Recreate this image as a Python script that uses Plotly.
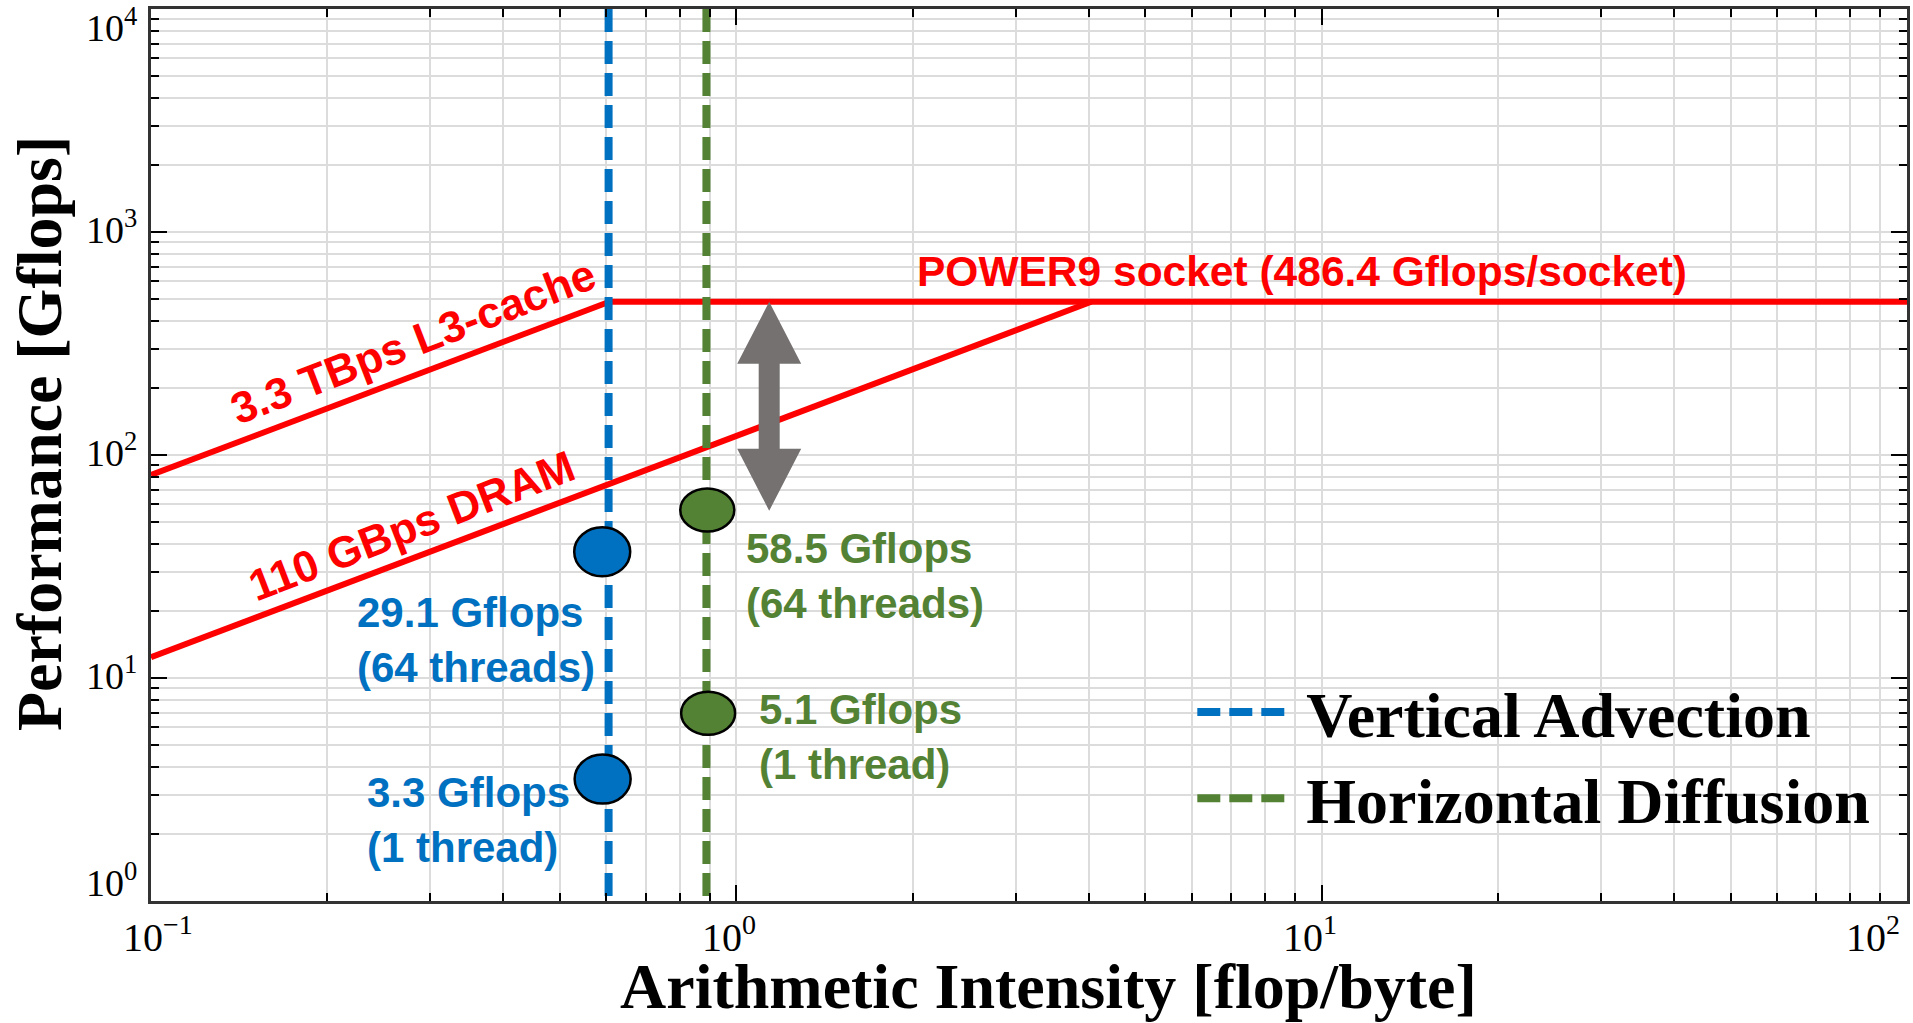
import numpy as np
import plotly.graph_objects as go

# ---------------- data ----------------
peak_gflops = 486.4
l3_x = [0.1, 0.607]
l3_y = [81.3, 486.4]
dram_x = [0.1, 4.04]
dram_y = [12.4, 486.4]
peak_x = [0.607, 100]
peak_y = [486.4, 486.4]

kernels = ["Vertical Advection", "Horizontal Diffusion"]
kernel_ai = [0.605, 0.889]
kernel_colors = ["#0070C0", "#548235"]

point_ai = [[0.590, 0.591], [0.892, 0.895]]
point_perf = [[36.8, 3.52], [56.7, 6.95]]
point_labels = [["29.1 Gflops<br>(64 threads)", "3.3 Gflops<br>(1 thread)"],
                ["58.5 Gflops<br>(64 threads)", "5.1 Gflops<br>(1 thread)"]]

arrow_ai = 1.138

x_tick_vals = [0.1, 1, 10, 100]
x_tick_text = ["10<sup>−1</sup>", "10<sup>0</sup>", "10<sup>1</sup>", "10<sup>2</sup>"]
y_tick_vals = [1, 10, 100, 1000, 10000]
y_tick_text = ["10<sup>0</sup>", "10<sup>1</sup>", "10<sup>2</sup>", "10<sup>3</sup>", "10<sup>4</sup>"]

roof_labels = ["3.3 TBps L3-cache", "110 GBps DRAM", "POWER9 socket (486.4 Gflops/socket)"]
x_title = "Arithmetic Intensity [flop/byte]"
y_title = "Performance [Gflops]"

# ---------------- style ----------------
RED = "#FF0000"
GRID = "#dcdcdc"
SANS = "Liberation Sans"
SERIF = "Liberation Serif"

label_pos = [[(-0.652, 1.170), (-0.635, 0.363)], [(0.0137, 1.457), (0.0358, 0.735)]]
roof_pos = [(-0.553, 2.507), (-0.555, 1.686), (0.966, 2.821)]
roof_size = [44, 44, 42.5]
ellipse_size = [(56, 49), (54, 43)]
x_label_shift = [7, -7, -12, -34]
y_label_shift = [21, 5, 5, 5, -16]

fig = go.Figure()

# roofline
for xs, ys in [(l3_x, l3_y), (dram_x, dram_y), (peak_x, peak_y)]:
    fig.add_trace(go.Scatter(x=xs, y=ys, mode="lines", line=dict(color=RED, width=6),
                             showlegend=False, hoverinfo="skip"))

# dashed kernel lines
for i, name in enumerate(kernels):
    fig.add_trace(go.Scatter(x=[kernel_ai[i], kernel_ai[i]], y=[1e4, 1], mode="lines",
                             name="&nbsp;" + name, legendgroup=name,
                             line=dict(color=kernel_colors[i], width=8, dash="23px,9px")))


def ellipse_path(rx, ry):
    k = 0.5523
    return (f"M{rx},0 C{rx},{k*ry} {k*rx},{ry} 0,{ry} "
            f"C{-k*rx},{ry} {-rx},{k*ry} {-rx},0 "
            f"C{-rx},{-k*ry} {-k*rx},{-ry} 0,{-ry} "
            f"C{k*rx},{-ry} {rx},{-k*ry} {rx},0 Z")


shapes = []
for i in range(len(kernels)):
    w, h = ellipse_size[i]
    for xv, yv in zip(point_ai[i], point_perf[i]):
        shapes.append(dict(type="path", xref="x", yref="y",
                           xsizemode="pixel", ysizemode="pixel",
                           xanchor=xv, yanchor=yv, path=ellipse_path(w / 2, h / 2),
                           fillcolor=kernel_colors[i], line=dict(color="black", width=2.5)))

# double arrow (pixel geometry anchored at the peak)
hw, hl, sw, L = 32, 62, 10.5, 209
path = (f"M0,0 L{hw},{-hl} L{sw},{-hl} L{sw},{-(L - hl)} L{hw},{-(L - hl)} L0,{-L} "
        f"L{-hw},{-(L - hl)} L{-sw},{-(L - hl)} L{-sw},{-hl} L{-hw},{-hl} Z")
shapes.append(dict(type="path", xref="x", yref="y", xsizemode="pixel", ysizemode="pixel",
                   xanchor=arrow_ai, yanchor=peak_gflops, path=path,
                   fillcolor="#767171", line=dict(width=0)))

annotations = []
for i in range(len(kernels)):
    for j, txt in enumerate(point_labels[i]):
        lx, ly = label_pos[i][j]
        annotations.append(dict(x=lx, y=ly, xref="x", yref="y", text=f"<b>{txt}</b>",
                                showarrow=False, xanchor="left", yanchor="middle", align="left",
                                font=dict(family=SANS, size=42, color=kernel_colors[i])))

for k, txt in enumerate(roof_labels):
    rx, ry = roof_pos[k]
    annotations.append(dict(x=rx, y=ry, xref="x", yref="y", text=f"<b>{txt}</b>",
                            showarrow=False, xanchor="center", yanchor="middle",
                            textangle=-21 if k < 2 else 0,
                            font=dict(family=SANS, size=roof_size[k], color=RED)))

for v, t, s in zip(x_tick_vals, x_tick_text, x_label_shift):
    annotations.append(dict(x=np.log10(v), y=0, xref="x", yref="paper", text=t,
                            showarrow=False, xanchor="center", yanchor="top",
                            xshift=s, yshift=-6,
                            font=dict(family=SERIF, size=40, color="black")))
for v, t, s in zip(y_tick_vals, y_tick_text, y_label_shift):
    annotations.append(dict(x=0, y=np.log10(v), xref="paper", yref="y", text=t,
                            showarrow=False, xanchor="right", yanchor="middle",
                            xshift=-12, yshift=s,
                            font=dict(family=SERIF, size=38, color="black")))

# axis titles
annotations.append(dict(x=0.511, y=-0.0953, xref="paper", yref="paper",
                        text=f"<b>{x_title}</b>", showarrow=False,
                        xanchor="center", yanchor="middle",
                        font=dict(family=SERIF, size=64, color="black")))
annotations.append(dict(x=0, y=0.5235, xref="paper", yref="paper", xshift=-112,
                        text=f"<b>{y_title}</b>", showarrow=False, textangle=-90,
                        xanchor="center", yanchor="middle",
                        font=dict(family=SERIF, size=64, color="black")))

axis_common = dict(type="log", tickmode="linear", tick0=0, dtick=1, showticklabels=False,
                   ticks="inside", ticklen=16, tickwidth=2, tickcolor="black",
                   showline=True, linecolor="#333333", linewidth=3, mirror="ticks",
                   showgrid=True, gridcolor=GRID, gridwidth=1.5, zeroline=False,
                   minor=dict(dtick="D1", ticks="inside", ticklen=8, tickwidth=1.5,
                              tickcolor="black", showgrid=True, gridcolor=GRID, gridwidth=1.5))

fig.update_layout(
    width=1913, height=1023,
    margin=dict(l=151, r=3, t=9, b=122),
    paper_bgcolor="white", plot_bgcolor="white",
    xaxis=dict(axis_common, range=[-1, 2]),
    yaxis=dict(axis_common, range=[0, 4]),
    shapes=shapes,
    annotations=annotations,
    showlegend=True,
    legend=dict(x=0.593, xanchor="left", y=0.1633, yanchor="middle",
                bgcolor="rgba(0,0,0,0)", itemwidth=88, tracegroupgap=0,
                font=dict(family=SERIF, size=64, color="black", weight="bold")),
)

fig.write_html("out.html", config={"displayModeBar": False},
               post_script="document.body.style.margin='0';document.body.style.overflow='hidden';")
